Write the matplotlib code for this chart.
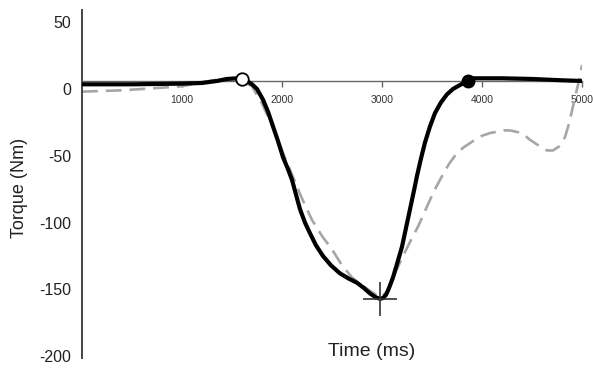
import matplotlib.pyplot as plt
import matplotlib.transforms as mtransforms
import numpy as np

plt.rcParams['font.family'] = ['Liberation Sans', 'DejaVu Sans']

# measured torque (solid)
t_meas = [0, 500, 1000, 1200, 1350, 1450, 1550, 1600, 1650, 1700, 1750, 1810, 1860,
          1910, 1960, 2010, 2060, 2100, 2140, 2180, 2230, 2280, 2340, 2410, 2490,
          2580, 2670, 2750, 2820, 2880, 2940, 2980, 3010, 3040, 3070, 3110, 3150,
          3200, 3240, 3280, 3320, 3350, 3390, 3430, 3480, 3530, 3590, 3650, 3710,
          3780, 3860, 3900, 4200, 4500, 4800, 5000]
torque_meas = [-2.5, -2.5, -2, -1.5, 0, 1.5, 2, 1.5, 0, -2.5, -6, -14, -23,
               -34, -45, -57, -66, -74, -85, -96, -106, -114, -123, -131, -138,
               -144, -148, -151, -155, -159, -162, -163, -162.5, -160, -155, -147, -137,
               -124, -110, -96, -82, -71, -58, -46, -34, -24, -16, -10, -6,
               -3, 0, 2, 2, 1.5, 0.5, 0]

# model torque (dashed)
t_model = [0, 400, 800, 1000, 1200, 1350, 1500, 1600, 1700, 1800, 1900, 2000, 2100,
           2200, 2300, 2400, 2500, 2600, 2700, 2800, 2900, 2980, 3050, 3110, 3210,
           3290, 3360, 3420, 3480, 3530, 3580, 3630, 3680, 3740, 3810, 3910, 4000,
           4080, 4150, 4220, 4280, 4340, 4400, 4480, 4580, 4650, 4710, 4770, 4830,
           4870, 4910, 4950, 4980, 5000]
torque_model = [-8, -7, -5, -4, -1, 1, 2, 0, -4, -17, -33, -52, -70,
                -88, -104, -116, -126, -138, -147, -153, -158, -162, -158, -147, -131,
                -119, -109, -99, -89, -81, -74, -67, -61, -55, -50, -45, -41,
                -39, -38, -37, -37, -38, -39, -44, -49, -52, -52, -49, -42,
                -32, -19, -6, 3, 12]

xticks = [1000, 2000, 3000, 4000, 5000]
yticks = [50, 0, -50, -100, -150, -200]

onset_t = 1600
offset_t = 3860

fig = plt.figure(figsize=(5.93, 3.68), dpi=100)
ax = fig.add_axes([82 / 593, 1 - 358 / 368, 500 / 593, 348 / 368])
ax.set_xlim(0, 5000)
ax.set_ylim(-207.3, 53.1)

ax.plot(t_model, torque_model, color='#a6a6a6', lw=1.9, dashes=(6, 3),
        solid_joinstyle='round', zorder=2)
ax.plot(t_meas, torque_meas, color='black', lw=3, solid_capstyle='round',
        solid_joinstyle='round', zorder=3)

# onset / offset markers
ax.plot(onset_t, np.interp(onset_t, t_meas, torque_meas), 'o', ms=9,
        mfc='white', mec='black', mew=1.3, zorder=4)
ax.plot(offset_t, np.interp(offset_t, t_meas, torque_meas), 'o', ms=9,
        mfc='black', mec='black', zorder=4)

# peak torque
i_pk = int(np.argmin(torque_meas))
ax.plot(t_meas[i_pk], torque_meas[i_pk], '+', ms=25, mew=1.2, color='#333333', zorder=5)

for s in ['top', 'right']:
    ax.spines[s].set_visible(False)
ax.spines['left'].set_color('#444444')
ax.spines['left'].set_linewidth(1.4)
ax.spines['bottom'].set_position(('data', 0))
ax.spines['bottom'].set_color('#666666')
ax.spines['bottom'].set_linewidth(1.0)

ax.set_xticks(xticks)
ax.set_xticklabels([str(x) for x in xticks], fontsize=7.5, color='#333333')
ax.tick_params(axis='x', direction='out', length=4, width=1, color='#666666', pad=6)

ax.set_yticks(yticks)
ax.set_yticklabels([str(y) for y in yticks], fontsize=11.5, color='#222222')
ax.tick_params(axis='y', length=0, pad=8)
shift = mtransforms.ScaledTranslation(0, -8 / 100, fig.dpi_scale_trans)
for lab in ax.get_yticklabels():
    lab.set_transform(lab.get_transform() + shift)

fig.text(372 / 593, 1 - 351 / 368, 'Time (ms)', ha='center', va='center', fontsize=14, color='#222222')
fig.text(20 / 593, 1 - 188 / 368, 'Torque (Nm)', ha='center', va='center', rotation=90,
         fontsize=13, color='#222222')

fig.savefig('out.png', dpi=100)
